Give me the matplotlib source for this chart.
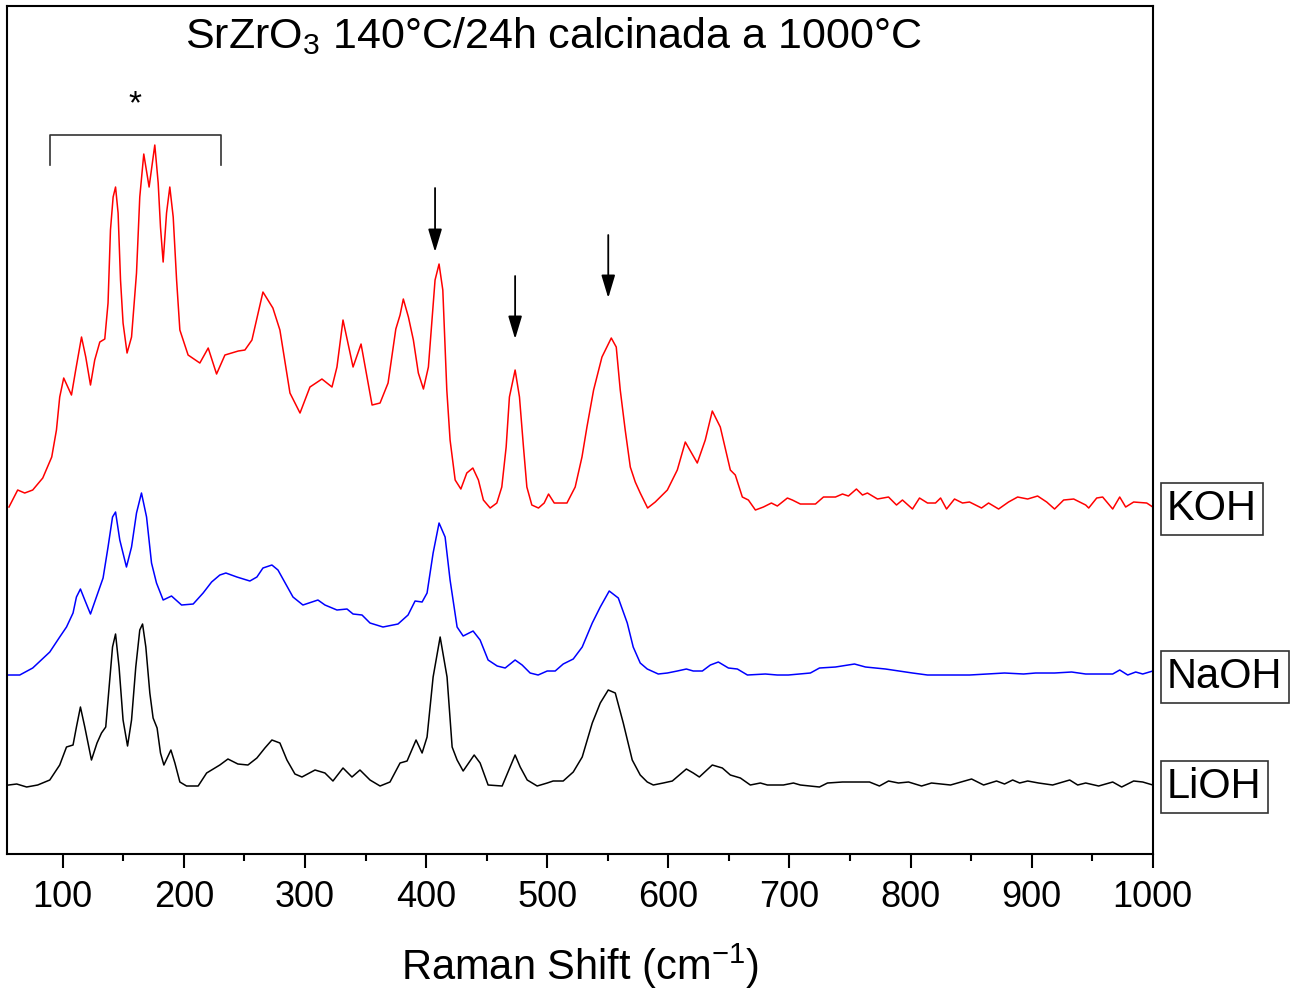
import matplotlib.pyplot as plt

plt.rcParams['font.family'] = ['Liberation Sans', 'DejaVu Sans']
plt.rcParams['mathtext.fontset'] = 'custom'
plt.rcParams['mathtext.rm'] = 'Liberation Sans'
plt.rcParams['mathtext.it'] = 'Liberation Sans:italic'
plt.rcParams['mathtext.bf'] = 'Liberation Sans:bold'

# Raman spectra (stacked, arbitrary units)
koh_shift = [55.6, 62.8, 68.6, 75.2, 83.5, 90.9, 94.8, 97.5, 100.8, 107.2, 110.7, 115.5, 119.0,
             122.9, 126.4, 130.6, 134.7, 137.4, 139.4, 141.6, 143.6, 145.7, 147.7, 149.8, 153.1,
             156.8, 160.9, 163.6, 166.9, 171.3, 176.0, 178.8, 180.7, 182.9, 185.7, 188.4, 191.2,
             194.0, 196.7, 203.5, 213.2, 220.1, 227.0, 233.9, 244.9, 250.4, 256.2, 265.3, 273.5,
             279.3, 287.6, 295.9, 304.1, 314.0, 322.3, 326.4, 331.4, 339.7, 346.3, 355.4, 362.0,
             368.6, 375.0, 378.5, 381.2, 385.4, 389.5, 393.6, 397.8, 401.9, 404.7, 407.4, 410.7,
             413.8, 417.1, 419.8, 424.0, 428.7, 433.6, 438.6, 443.2, 447.3, 452.9, 458.4, 462.5,
             466.1, 468.8, 473.5, 477.1, 480.4, 483.2, 487.3, 492.8, 497.5, 501.1, 505.8, 516.3,
             523.1, 528.7, 532.8, 538.3, 545.2, 552.9, 557.0, 560.3, 564.4, 568.6, 572.7, 576.8,
             582.9, 589.2, 593.4, 599.2, 607.4, 614.0, 623.9, 630.5, 636.3, 642.9, 651.2, 655.3,
             661.1, 666.1, 671.9, 678.5, 685.1, 690.0, 698.3, 702.4, 709.0, 721.5, 728.1, 738.0,
             743.8, 748.7, 755.3, 760.3, 764.4, 772.7, 781.8, 788.4, 793.3, 801.6, 807.4, 814.0,
             820.6, 824.8, 829.7, 836.3, 842.9, 848.7, 858.6, 864.4, 872.7, 880.9, 888.4, 896.7,
             904.9, 912.4, 918.9, 926.4, 934.7, 944.6, 947.1, 953.7, 958.6, 966.9, 972.7, 977.6,
             984.2, 995.0, 1000.0]
koh_int = [347, 364, 361, 364, 376, 397, 424, 457, 476, 459, 484, 517, 497,
           469, 494, 512, 515, 551, 624, 657, 667, 641, 574, 531, 501,
           517, 581, 657, 700, 667, 709, 671, 627, 592, 641, 667, 637,
           574, 524, 499, 491, 506, 480, 499, 503, 504, 514, 562, 546,
           524, 461, 441, 467, 475, 467, 487, 534, 487, 510, 449, 451,
           471, 525, 539, 555, 537, 514, 481, 465, 487, 531, 574, 590,
           564, 464, 414, 374, 365, 381, 386, 374, 354, 346, 351, 367,
           407, 457, 484, 457, 407, 367, 349, 346, 351, 360, 351, 351,
           367, 397, 427, 464, 497, 516, 507, 464, 424, 387, 372, 361,
           346, 352, 357, 364, 384, 412, 391, 414, 443, 427, 384, 379,
           357, 354, 344, 347, 351, 348, 356, 354, 350, 350, 357, 357,
           360, 358, 365, 359, 361, 355, 357, 349, 354, 345, 356, 351,
           351, 356, 345, 355, 351, 352, 346, 351, 345, 352, 357, 355,
           358, 352, 345, 354, 355, 349, 346, 356, 357, 345, 357, 347,
           352, 351, 347]

naoh_shift = [55.4, 64.5, 75.2, 89.3, 97.5, 103.1, 108.5, 111.3, 114.6, 118.2, 122.9, 127.8,
              133.3, 137.4, 141.1, 143.6, 147.1, 152.6, 156.8, 160.9, 165.0, 169.2, 173.3, 177.4,
              182.9, 189.8, 198.1, 207.7, 215.9, 222.9, 229.7, 234.7, 243.8, 254.5, 260.3, 265.3,
              272.7, 277.7, 290.1, 298.3, 310.7, 316.5, 326.4, 334.7, 339.7, 347.1, 353.7, 364.4,
              376.8, 385.1, 390.9, 396.7, 400.8, 405.8, 410.7, 415.7, 419.8, 425.6, 430.6, 438.8,
              444.6, 451.2, 458.7, 465.3, 473.5, 479.3, 485.9, 492.5, 500.0, 506.6, 513.2, 521.5,
              528.9, 537.2, 543.8, 551.2, 558.7, 566.1, 571.0, 576.8, 582.6, 591.7, 599.2, 607.4,
              614.9, 620.6, 628.1, 634.7, 641.3, 649.6, 657.0, 665.3, 680.1, 690.0, 699.1, 717.3,
              724.8, 738.0, 753.7, 762.8, 779.3, 801.6, 814.0, 848.7, 877.6, 893.3, 903.3, 918.9,
              933.0, 944.6, 966.9, 972.7, 979.3, 985.9, 991.7, 1000.0]
naoh_int = [179, 179, 186, 202, 217, 227, 241, 257, 265, 254, 240, 257,
            276, 307, 337, 342, 314, 287, 307, 341, 361, 337, 291, 271,
            254, 258, 249, 250, 261, 272, 279, 281, 277, 273, 277, 286,
            289, 284, 257, 249, 254, 249, 244, 245, 240, 239, 231, 227,
            230, 239, 253, 252, 261, 301, 331, 317, 274, 227, 218, 223,
            214, 194, 188, 186, 194, 189, 181, 179, 183, 183, 190, 195,
            207, 231, 247, 263, 256, 231, 207, 191, 185, 180, 181, 183,
            185, 183, 183, 189, 192, 186, 185, 179, 180, 179, 179, 181,
            186, 187, 190, 187, 185, 181, 179, 179, 181, 180, 181, 181,
            182, 180, 180, 184, 179, 182, 180, 183]

lioh_shift = [55.4, 62.0, 70.2, 79.3, 89.3, 97.5, 103.1, 108.5, 111.3, 114.6, 118.2, 123.7,
              128.3, 132.0, 135.5, 138.3, 141.1, 143.6, 146.5, 149.8, 153.5, 156.8, 160.3, 163.6,
              165.9, 168.6, 171.9, 174.6, 177.9, 180.7, 183.5, 189.3, 192.6, 196.7, 202.2, 211.8,
              218.8, 225.6, 229.7, 236.4, 244.6, 252.9, 260.3, 266.9, 272.7, 279.3, 285.1, 291.7,
              297.5, 308.3, 316.5, 323.1, 331.4, 338.8, 345.4, 353.7, 362.0, 370.2, 378.5, 384.3,
              391.7, 396.7, 400.8, 405.8, 411.6, 417.3, 421.5, 425.6, 430.6, 439.7, 444.6, 451.2,
              462.8, 469.4, 473.5, 477.7, 483.5, 491.7, 500.0, 504.9, 513.2, 521.5, 528.9, 537.2,
              543.8, 550.4, 556.2, 562.8, 570.2, 576.8, 582.6, 587.6, 595.8, 603.3, 614.9, 620.6,
              625.6, 636.3, 644.6, 651.2, 659.5, 667.7, 676.0, 681.8, 695.0, 703.3, 709.0, 724.8,
              731.4, 743.8, 766.1, 774.3, 781.8, 790.0, 798.3, 809.1, 817.3, 833.0, 850.4, 860.3,
              871.0, 877.6, 884.3, 890.1, 896.7, 905.7, 917.3, 931.4, 938.0, 944.6, 955.3, 966.9,
              974.3, 984.2, 991.7, 1000.0]
lioh_int = [69, 70, 67, 69, 74, 89, 107, 109, 127, 147, 127, 94,
            111, 121, 127, 167, 207, 220, 187, 134, 108, 134, 187, 224,
            230, 207, 161, 136, 126, 101, 89, 104, 91, 72, 68, 68,
            81, 86, 89, 95, 90, 89, 96, 106, 114, 111, 94, 80,
            77, 84, 81, 73, 86, 77, 84, 74, 68, 72, 91, 93,
            114, 101, 117, 177, 217, 177, 107, 94, 83, 99, 91, 69,
            68, 87, 99, 87, 74, 68, 71, 73, 73, 82, 97, 131,
            151, 164, 161, 131, 94, 79, 72, 69, 71, 73, 85, 81,
            77, 89, 86, 79, 76, 69, 71, 69, 69, 71, 69, 67,
            71, 72, 72, 68, 73, 71, 72, 68, 71, 69, 75, 69,
            73, 70, 74, 71, 73, 71, 69, 74, 69, 71, 68, 72,
            67, 73, 72, 69]

names = ['KOH', 'NaOH', 'LiOH']
colors = ['#ff0000', '#0000ff', '#000000']
label_y = [345, 177, 67]

# marked bands (arrow positions) and the bracketed low-frequency region
arrow_shift = [407.4, 473.5, 550.4]
arrow_top = [666, 578, 619]
arrow_tip = [602, 515, 556]
bracket_range = (89.3, 230.6)

fig = plt.figure(figsize=(13.02, 9.89), dpi=100)
ax = fig.add_axes([0.0054, 0.1365, 0.88, 0.8574])

spectra = [(koh_shift, koh_int), (naoh_shift, naoh_int), (lioh_shift, lioh_int)]
for (x, y), name, color, ly in zip(spectra, names, colors, label_y):
    ax.plot(x, y, color=color, lw=1.1)
    ax.text(1.0125, ly, name, transform=ax.get_yaxis_transform(), fontsize=30,
            ha='left', va='center', clip_on=False,
            bbox=dict(boxstyle='square,pad=0.15', fc='white', ec='#333333', lw=1.2))

for xa, yt, yh in zip(arrow_shift, arrow_top, arrow_tip):
    ax.annotate('', xy=(xa, yh), xytext=(xa, yt),
                arrowprops=dict(arrowstyle='-|>,head_length=1.4,head_width=0.42',
                                color='black', lw=1.3, shrinkA=0, shrinkB=0))

b0, b1 = bracket_range
ax.plot([b0, b0, b1, b1], [689, 719, 719, 689], color='#333333', lw=1.2)
ax.text((b0 + b1) / 2, 749, '*', fontsize=24, ha='center', va='center')

ax.text(0.477, 0.964, 'SrZrO$_3$ 140°C/24h calcinada a 1000°C', transform=ax.transAxes,
        fontsize=31, ha='center', va='center')

ax.set_xlim(54, 1000)
ax.set_ylim(0, 848)
ax.set_xticks(range(100, 1001, 100))
ax.set_xticks(range(150, 1000, 100), minor=True)
ax.tick_params(axis='x', which='major', direction='out', length=10, width=1.5,
               labelsize=26, pad=9)
ax.tick_params(axis='x', which='minor', direction='out', length=5, width=1.5)
ax.set_yticks([])
for sp in ax.spines.values():
    sp.set_linewidth(1.5)

ax.set_xlabel('Raman Shift (cm$^{-1}$)', fontsize=30, labelpad=19)

fig.savefig('out.png', dpi=100)
